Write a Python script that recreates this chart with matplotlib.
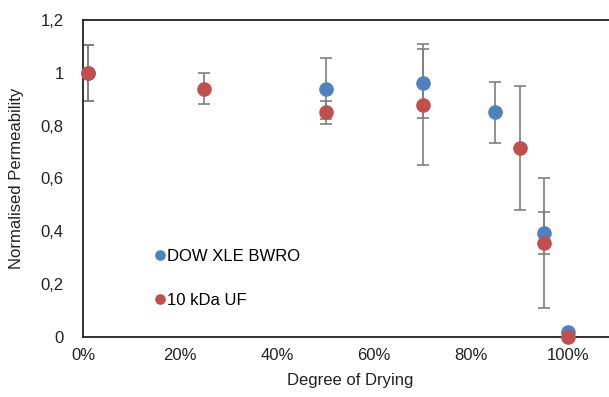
import matplotlib
matplotlib.use("Agg")
import matplotlib.pyplot as plt
from matplotlib.ticker import FuncFormatter

plt.rcParams['font.family'] = ['Liberation Sans', 'DejaVu Sans']

# Degree of drying (fraction) and normalised permeability with error half-widths
dow_x = [0.01, 0.50, 0.70, 0.85, 0.95, 1.00]
dow_y = [1.00, 0.94, 0.96, 0.85, 0.395, 0.02]
dow_err = [0.105, 0.115, 0.13, 0.115, 0.08, 0.0]

uf_x = [0.01, 0.25, 0.50, 0.70, 0.90, 0.95, 1.00]
uf_y = [1.00, 0.94, 0.85, 0.88, 0.715, 0.355, 0.0]
uf_err = [0.105, 0.058, 0.045, 0.23, 0.235, 0.246, 0.0]

x_ticks = [0.0, 0.2, 0.4, 0.6, 0.8, 1.0]
y_ticks = [0.0, 0.2, 0.4, 0.6, 0.8, 1.0, 1.2]

blue = '#4F81BD'
red = '#C0504D'
err_col = '#7f7f7f'
text_col = '#222222'
fs = 12

fig = plt.figure(figsize=(6.09, 3.97), dpi=100)
ax = fig.add_axes([83 / 609, 60 / 397, 533.5 / 609, 317 / 397])

ax.errorbar(dow_x, dow_y, yerr=dow_err, fmt='none', ecolor=err_col,
            elinewidth=1.2, capsize=4, capthick=1.2, zorder=2)
ax.errorbar(uf_x, uf_y, yerr=uf_err, fmt='none', ecolor=err_col,
            elinewidth=1.2, capsize=4, capthick=1.2, zorder=2)
ax.plot(dow_x, dow_y, 'o', color=blue, markersize=9.5, zorder=3,
        label='DOW XLE BWRO', clip_on=False)
ax.plot(uf_x, uf_y, 'o', color=red, markersize=9.5, zorder=4,
        label='10 kDa UF', clip_on=False)

ax.set_xlim(0, 1.1)
ax.set_ylim(0, 1.2)
ax.set_xticks(x_ticks)
ax.set_yticks(y_ticks)
ax.xaxis.set_major_formatter(FuncFormatter(lambda v, p: f"{v * 100:.0f}%"))
ax.yaxis.set_major_formatter(
    FuncFormatter(lambda v, p: f"{v:g}".replace('.', ',')))
ax.tick_params(axis='both', length=0, labelsize=fs, colors=text_col)
ax.tick_params(axis='x', pad=8)
ax.tick_params(axis='y', pad=14)

for side in ['left', 'top', 'bottom']:
    ax.spines[side].set_color(text_col)
    ax.spines[side].set_linewidth(1.3)
ax.spines['right'].set_visible(False)

ax.set_xlabel('Degree of Drying', fontsize=fs, color=text_col, labelpad=7)
ax.set_ylabel('Normalised Permeability', fontsize=fs, color=text_col,
              labelpad=12)

leg = ax.legend(loc='upper left', bbox_to_anchor=(0.122, 0.3), frameon=False,
                fontsize=fs, markerscale=0.7, handlelength=0.6,
                handletextpad=0.15, labelspacing=1.75, borderaxespad=0)

fig.savefig('out.png', dpi=100)
